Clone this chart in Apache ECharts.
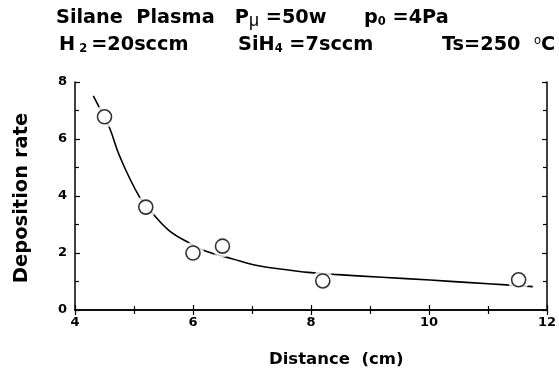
<!DOCTYPE html>
<html><head><meta charset="utf-8">
<script src="https://cdn.jsdelivr.net/npm/echarts@6/dist/echarts.min.js"></script>
<style>html,body{margin:0;padding:0;background:#fff}#c{width:559px;height:372px}</style>
</head><body><div id="c"></div>
<script>
// measured points (distance cm, deposition rate)
const distance = [4.5, 5.2, 6.0, 6.5, 8.2, 11.52];
const rate = [6.78, 3.61, 2.0, 2.24, 1.02, 1.06];
// fitted curve
const curveX = [4.31, 4.45, 4.59, 4.76, 5.09, 5.34, 5.60, 5.93, 6.21, 6.66, 7.11, 7.95, 8.39, 9.2, 10.02, 10.7, 11.31, 11.76];
const curveY = [7.51, 6.95, 6.37, 5.38, 3.98, 3.33, 2.78, 2.36, 2.07, 1.80, 1.55, 1.32, 1.25, 1.15, 1.05, 0.96, 0.88, 0.82];
const xTicks = [4, 6, 8, 10, 12];
const yTicks = [0, 2, 4, 6, 8];

const F = '"DejaVu Sans", sans-serif';
const chart = echarts.init(document.getElementById('c'));
const pts = distance.map((d, i) => [d, rate[i]]);
const curve = curveX.map((d, i) => [d, curveY[i]]);
const rich = {
  n: {fontFamily: F, fontWeight: 'bold', fontSize: 19.3, fill: '#000'},
  s: {fontFamily: F, fontWeight: 'bold', fontSize: 11.5, fill: '#000', verticalAlign: 'bottom', padding: [9, 0, 0, 0]},
  g: {fontFamily: 'Liberation Sans, sans-serif', fontWeight: 'normal', fontSize: 17.5, fill: '#000', verticalAlign: 'bottom', padding: [7, 0, 0, 0]},
  u: {fontFamily: F, fontWeight: 'normal', fontSize: 11.5, fill: '#000', verticalAlign: 'top', padding: [0, 0, 6, 0]}
};
const txt = (x, y, s) => ({type: 'text', left: x, top: y, style: {text: s, rich: rich, font: 'bold 19.3px ' + F, fill: '#000'}});
const axisCommon = {
  min: 0, max: 8, interval: 2,
  axisLine: {show: true, lineStyle: {color: '#000', width: 1.5}},
  axisTick: {show: true, inside: true, length: 5, lineStyle: {color: '#000', width: 1.2}},
  minorTick: {show: true, splitNumber: 2, length: 4, lineStyle: {color: '#000', width: 1.2}},
  splitLine: {show: false}
};
const lab = {fontFamily: F, fontWeight: 'bold', fontSize: 13, color: '#000'};
chart.setOption({
  animation: false,
  grid: {left: 75, right: 8, top: 82, bottom: 62},
  graphic: [
    txt(56, 8, '{n|Silane  Plasma   P}{g|μ}{n| =50w}'),
    txt(364, 8, '{n|p}{s|0}{n| =4Pa}'),
    txt(59, 35, '{n|H}{s| 2 }{n|=20sccm}'),
    txt(238, 35, '{n|SiH}{s|4}{n| =7sccm}'),
    txt(442, 35, '{n|Ts=250  }{u|o}{n|C}'),
    {type: 'text', left: 269, top: 351, style: {text: 'Distance  (cm)', font: 'bold 16.5px ' + F, fill: '#000'}},
    {type: 'text', x: 22, y: 198, rotation: Math.PI / 2,
      style: {text: 'Deposition rate', font: 'bold 19.5px ' + F, fill: '#000', align: 'center', verticalAlign: 'middle'}}
  ],
  xAxis: [
    Object.assign({}, axisCommon, {type: 'value', min: 4, max: 12, interval: 2, position: 'bottom',
      axisLabel: Object.assign({margin: 6, formatter: v => xTicks.includes(v) ? String(v) : ''}, lab)}),
    Object.assign({}, axisCommon, {type: 'value', min: 4, max: 12, interval: 2, position: 'top', axisLabel: {show: false}})
  ],
  yAxis: [
    Object.assign({}, axisCommon, {type: 'value', position: 'left',
      axisLabel: Object.assign({margin: 8, formatter: v => yTicks.includes(v) ? String(v) : ''}, lab)}),
    Object.assign({}, axisCommon, {type: 'value', position: 'right', axisLabel: {show: false}})
  ],
  series: [
    {type: 'line', data: curve, smooth: 0.4, symbol: 'none', lineStyle: {color: '#000', width: 1.6}, z: 2},
    {type: 'scatter', data: pts, symbol: 'circle', symbolSize: 22, itemStyle: {color: '#fff'}, z: 3},
    {type: 'scatter', data: pts, symbol: 'circle', symbolSize: 14,
      itemStyle: {color: '#fff', borderColor: '#000', borderWidth: 1.6}, z: 4}
  ]
});
</script></body></html>
